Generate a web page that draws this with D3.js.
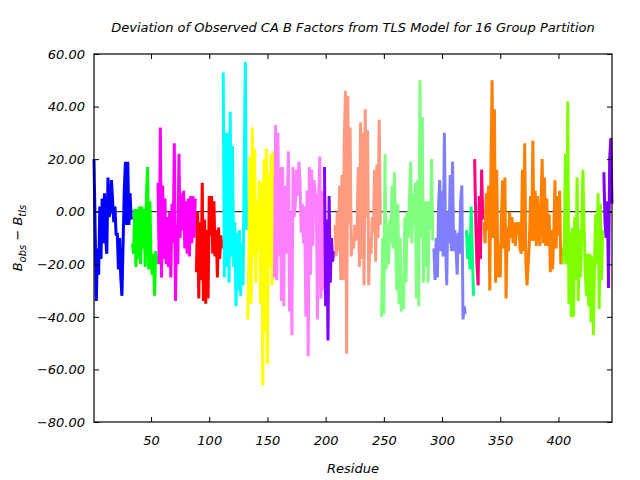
<!DOCTYPE html>
<meta charset="utf-8">
<script src="https://d3js.org/d3.v7.min.js"></script>
<style>
  body { margin: 0; background: #fff; }
  text { font-family: "DejaVu Sans", sans-serif; font-style: italic; fill: #000; }
  .tick line { stroke: #000; }
  .domain { display: none; }
</style>
<div id="wrapper"></div>
<script>
  // Groups: first residue of each group, colours, and B-factor deviation per residue
  const groupStarts = [1, 34, 56, 89, 112, 133, 156, 199, 208, 248, 293, 321, 328, 336, 404, 439];
  const groupColors = ["#0000ff", "#00ff00", "#ff00ff", "#ff0000", "#00ffff", "#ffff00", "#ff80ff", "#8000ff",
    "#ff9980", "#80ff80", "#8080ff", "#00ff80", "#ff0080", "#ff8000", "#80ff00", "#8000ff"];

  const g01 = [20, -7, -34, -14, -24, 2, -18, 5, -12, 7, -10, -16, 13, -2, 0, 12, 4, -4, 2, -9, -8, -22, -10, -25, -32, -12, 8, 19, -5, 19, -5, 7, -3];
  const g02 = [-12, -16, 1, -21, 1, -18, 2, -20, 2, -14, 1, -21, 5, 17, -22, 4, -18, -24, -16, -32, -15, -20];
  const g03 = [11, -20, 32, -25, 10, -18, 5, -20, -2, -21, 0, -25, 3, -12, 26, -34, -5, -20, 22, -10, 7, -7, 8, -14, 4, -16, 5, -17, 6, -12, 6, -10, 5];
  const g04 = [-23, 0, -33, -4, -26, 11, -34, -3, -35, -7, -33, 6, -9, 6, -16, 4, -17, -7, -25, -6, -18, -9, -14];
  const g05 = [53, -25, 30, -21, 30, -27, 38, -17, 25, -21, -4, -36, -8, -30, -7, -32, -12, -28, 15, 57, -7];
  const g06 = [-41, -20, 21, -35, 32, -17, 24, -27, 4, -15, 12, -35, 11, -66, 20, -46, 24, -58, 15, -21, 22, -28, 23];
  const g07 = [-25, 33, -26, 30, -17, 17, -34, 17, -36, 10, -16, 3, 23, -38, 0, -47, 17, -2, 3, 16, 6, 19, 12, -8, 3,
    -12, 2, -40, 8, -55, 17, -24, 16, -13, 12, 7, 5, -41, 5, 21, -33, 8, -30];
  const g08 = [17, -36, -3, -49, 6, -27, -10, -19, -15];
  const g09 = [-5, -17, 0, -15, 10, -26, 14, -26, 27, 46, -54, 44, -5, 32, -17, -10, -14, -5, -11, -8,
    17, -21, 34, -18, 30, -28, 39, -2, 31, -28, -10, -16, -2, -8, 16, -19, 18, -10, 35, -5];
  const g10 = [-40, -10, -39, 22, -22, -5, -20, -3, -12, 10, -14, 15, -5, -30, 3, -35, -10, -38, -25, -37,
    -2, -27, 0, -10, 5, 19, -12, 7, -5, 11, -33, 12, -36, 50, -10, 36, -27, 4, -21, 4, -27, 4, -7, 20, -11];
  const g11 = [-14, -26, -10, -25, 2, 12, -15, 8, -17, 30, -10, -28, 0, -12, 14, -15, 19, -15, -7, -14, -24, -8, -16, 4, 10, -41, -36, -39];
  const g12 = [-7, -18, -9, -22, 2, -15, -32];
  const g13 = [20, -5, -20, -28, 6, -18, 16, -3];
  const g14 = [-4, -12, 7, -7, 10, -30, 17, 50, -10, 39, -27, 16, -25, -12, -25, -3, 12, -14, 13, -33,
    -6, -15, 0, -10, -2, -12, -4, -13, -4, -9, -4, -14, -16, 16, -15, 26, -19, -28, -20, -12,
    6, -11, 27, -11, 8, -13, 6, -4, -13, 3, 20, -12, 13, -13, 5, -13, -1, -23, -7, -22,
    -8, 12, -14, 6, -9, 8, -20, -14];
  const g15 = [-20, -11, 22, -20, 42, -35, -8, -40, -6, -40, -2, -26, 13, -34, -7, -25, -4, 16, -5, -22,
    -32, -16, -36, -16, -42, -17, -47, -18, -1, -20, 7, -37, 3, -26, -7];
  const g16 = [15, -4, -10, 4, -29, 20, 28, 3];
  const groupValues = [g01, g02, g03, g04, g05, g06, g07, g08, g09, g10, g11, g12, g13, g14, g15, g16];

  const xTicks = [50, 100, 150, 200, 250, 300, 350, 400];
  const yTicks = [-80, -60, -40, -20, 0, 20, 40, 60];

  const margin = { top: 54, right: 28, bottom: 58, left: 94 },
    width = 640 - margin.left - margin.right,
    height = 480 - margin.top - margin.bottom;

  const svg = d3.select("#wrapper")
    .append("svg")
    .attr("width", 640)
    .attr("height", 480);

  const g = svg.append("g")
    .attr("transform", `translate(${margin.left},${margin.top})`);

  const x = d3.scaleLinear().domain([1, 446]).range([0, width]);
  const y = d3.scaleLinear().domain([-80, 60]).range([height, 0]);

  // zero line
  g.append("line")
    .attr("x1", 0).attr("x2", width)
    .attr("y1", y(0)).attr("y2", y(0))
    .attr("stroke", "#000").attr("stroke-width", 1);

  const line = d3.line()
    .x(d => x(d.res))
    .y(d => y(d.v));

  groupValues.forEach((vals, i) => {
    const pts = vals.map((v, j) => ({ res: groupStarts[i] + j, v: v }));
    g.append("path")
      .datum(pts)
      .attr("fill", "none")
      .attr("stroke", groupColors[i])
      .attr("stroke-width", 3)
      .attr("d", line);
  });

  // axes with inward ticks on all sides
  const tl = 5;
  g.append("g")
    .attr("transform", `translate(0,${height})`)
    .call(d3.axisBottom(x).tickValues(xTicks).tickSize(-tl).tickPadding(14))
    .call(a => a.selectAll("text").style("font-size", "13px"));
  g.append("g")
    .call(d3.axisTop(x).tickValues(xTicks).tickSize(-tl).tickFormat(""));
  g.append("g")
    .call(d3.axisLeft(y).tickValues(yTicks).tickSize(-tl).tickPadding(9).tickFormat(d3.format(".2f")))
    .call(a => a.selectAll("text").style("font-size", "13px"));
  g.append("g")
    .attr("transform", `translate(${width},0)`)
    .call(d3.axisRight(y).tickValues(yTicks).tickSize(-tl).tickFormat(""));

  // frame
  g.append("rect")
    .attr("width", width).attr("height", height)
    .attr("fill", "none").attr("stroke", "#000").attr("stroke-width", 1.2);

  svg.append("text")
    .attr("x", margin.left + width / 2)
    .attr("y", 32)
    .attr("text-anchor", "middle")
    .style("font-size", "13px")
    .text("Deviation of Observed CA B Factors from TLS Model for 16 Group Partition");

  svg.append("text")
    .attr("x", margin.left + width / 2)
    .attr("y", 473)
    .attr("text-anchor", "middle")
    .style("font-size", "13px")
    .text("Residue");

  const yl = svg.append("text")
    .attr("transform", "translate(22,238) rotate(-90)")
    .attr("text-anchor", "middle")
    .style("font-size", "13px");
  yl.append("tspan").text("B");
  yl.append("tspan").attr("dy", 4).style("font-size", "10px").text("obs");
  yl.append("tspan").attr("dy", -4).text(" \u2212 B");
  yl.append("tspan").attr("dy", 4).style("font-size", "10px").text("tls");
</script>
